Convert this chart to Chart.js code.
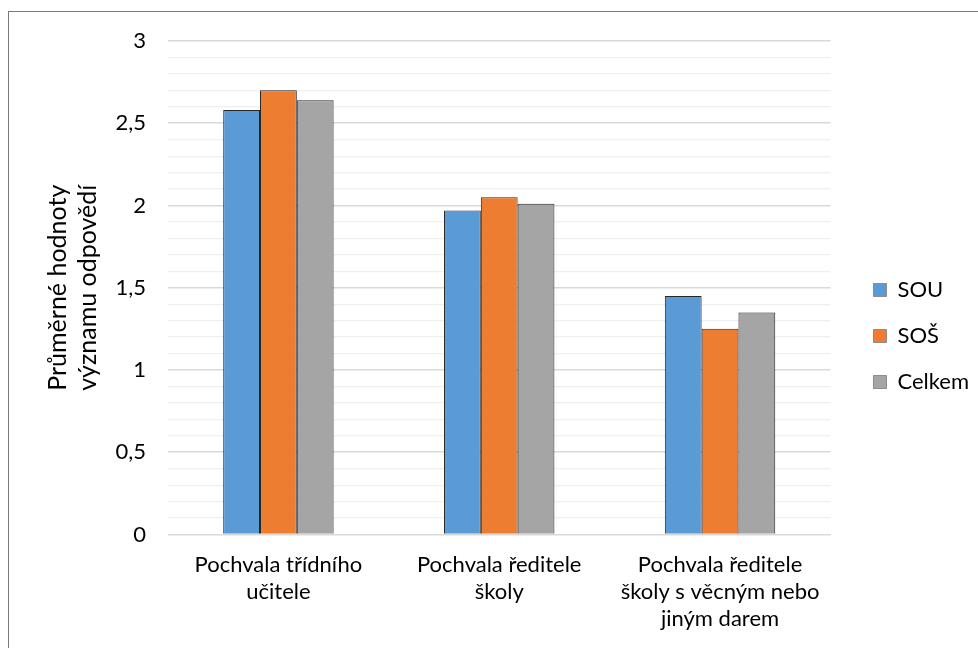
<!DOCTYPE html>
<html>
<head>
<meta charset="utf-8">
<script src="https://cdn.jsdelivr.net/npm/chart.js@4/dist/chart.umd.min.js"></script>
<style>
  html, body { margin: 0; padding: 0; background: #fff; overflow: hidden; }
  #wrap { position: relative; width: 978px; height: 648px; }
  #frame { position: absolute; left: 8px; top: 11px; width: 1000px; height: 700px;
           border: 1px solid #7a7a7a; pointer-events: none; }
  canvas { position: absolute; left: 0; top: 0; }
</style>
</head>
<body>
<div id="wrap">
  <canvas id="chart" width="978" height="648"></canvas>
  <div id="frame"></div>
</div>
<script>
/* Průměrné hodnoty významu odpovědí — pochvaly podle typu školy */

var CATEGORIES = [
  ['Pochvala třídního', 'učitele'],
  ['Pochvala ředitele', 'školy'],
  ['Pochvala ředitele', 'školy s věcným nebo', 'jiným darem']
];
var SOU = [2.58, 1.97, 1.45];
var SOS = [2.70, 2.05, 1.25];
var CELKEM = [2.64, 2.01, 1.35];
var SERIES_NAMES = ['SOU', 'SOŠ', 'Celkem'];
var Y_TITLE = ['Průměrné hodnoty', 'významu odpovědí'];

var COLORS = { blue: '#5b9bd5', orange: '#ed7d31', gray: '#a5a5a5' };
var FONT = 'Lato, "Open Sans", sans-serif';
var MAJOR_GRID = '#d9d9d9';
var MINOR_GRID = '#efefef';
var LEGEND_SHIFT_X = 19;
var LEGEND_SHIFT_Y = -5;
var Y_AXIS_WIDTH = 125;

function fmtTick(v) {
  var tenths = Math.round(v * 10);
  if (tenths % 5 !== 0) return '';
  return String(tenths / 10).replace('.', ',');
}

function barSet(label, data, color) {
  return {
    label: label,
    data: data,
    backgroundColor: color,
    borderColor: '#262626',
    borderWidth: 1,
    categoryPercentage: 0.5,
    barPercentage: 1
  };
}

// nudge the legend away from the plot and up a little
var legendNudge = {
  id: 'legendNudge',
  afterLayout: function(chart) {
    var lg = chart.legend;
    if (!lg) return;
    lg.left += LEGEND_SHIFT_X;
    lg.right += LEGEND_SHIFT_X;
    lg.top += LEGEND_SHIFT_Y;
    lg.bottom += LEGEND_SHIFT_Y;
  }
};

new Chart(document.getElementById('chart').getContext('2d'), {
  type: 'bar',
  data: {
    labels: CATEGORIES,
    datasets: [
      barSet(SERIES_NAMES[0], SOU, COLORS.blue),
      barSet(SERIES_NAMES[1], SOS, COLORS.orange),
      barSet(SERIES_NAMES[2], CELKEM, COLORS.gray)
    ]
  },
  options: {
    responsive: false,
    animation: false,
    layout: { padding: { left: 43, right: 18, top: 41, bottom: 7 } },
    scales: {
      x: {
        grid: { display: false },
        border: { display: true, color: MAJOR_GRID, width: 1 },
        ticks: {
          color: '#000',
          font: { family: FONT, size: 22, lineHeight: 1.22 },
          padding: 9,
          maxRotation: 0,
          autoSkip: false
        }
      },
      y: {
        min: 0,
        max: 3,
        border: { display: false },
        afterFit: function(scale) { scale.width = Y_AXIS_WIDTH; },
        grid: {
          drawTicks: false,
          color: function(ctx) { return fmtTick(ctx.tick.value) ? MAJOR_GRID : MINOR_GRID; },
          lineWidth: function(ctx) { return fmtTick(ctx.tick.value) ? 1.5 : 1.2; }
        },
        ticks: {
          stepSize: 0.1,
          autoSkip: false,
          color: '#000',
          font: { family: FONT, size: 22 },
          padding: 22,
          callback: function(v) { return fmtTick(v); }
        },
        title: {
          display: true,
          text: Y_TITLE,
          color: '#000',
          font: { family: FONT, size: 25, lineHeight: 1.2 },
          padding: { top: 0, bottom: 0 }
        }
      }
    },
    plugins: {
      legend: {
        position: 'right',
        labels: {
          color: '#000',
          font: { family: FONT, size: 22 },
          boxWidth: 13,
          boxHeight: 13,
          padding: 24,
          generateLabels: function(chart) {
            return chart.data.datasets.map(function(ds, i) {
              return {
                text: ds.label,
                fillStyle: ds.backgroundColor,
                strokeStyle: '#8c8c8c',
                lineWidth: 1,
                datasetIndex: i,
                fontColor: '#000'
              };
            });
          }
        }
      },
      tooltip: { enabled: false }
    }
  },
  plugins: [legendNudge]
});
</script>
</body>
</html>
